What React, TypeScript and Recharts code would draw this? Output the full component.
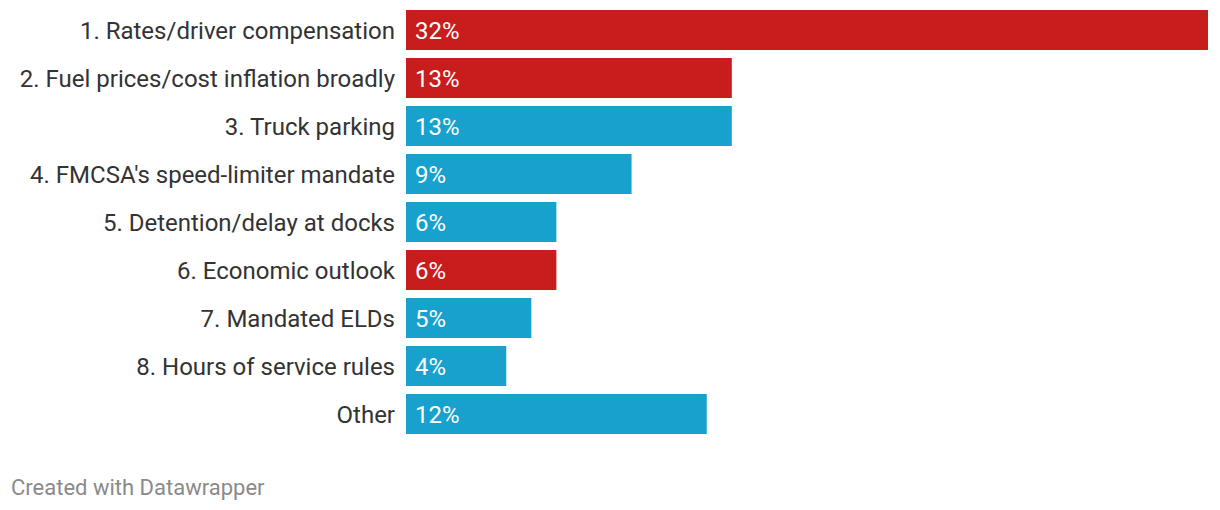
import React from "react";
import { BarChart, Bar, XAxis, YAxis, Cell, LabelList } from "recharts";

const categories = [
  "1. Rates/driver compensation",
  "2. Fuel prices/cost inflation broadly",
  "3. Truck parking",
  "4. FMCSA's speed-limiter mandate",
  "5. Detention/delay at docks",
  "6. Economic outlook",
  "7. Mandated ELDs",
  "8. Hours of service rules",
  "Other",
];
const values = [32, 13, 13, 9, 6, 6, 5, 4, 12];
const highlighted = [true, true, false, false, false, true, false, false, false];

const RED = "#c71e1d";
const BLUE = "#18a1cd";
const FONT = "Roboto, 'Noto Sans', sans-serif";

const data = categories.map((c, i) => ({ name: c, value: values[i], hi: highlighted[i] }));

export default function App() {
  return (
    <div style={{ position: "relative", width: 1204, height: 494, marginTop: -2, fontFamily: FONT }}>
      <BarChart
        width={1204}
        height={432}
        data={data}
        layout="vertical"
        margin={{ top: 0, right: 4, bottom: 0, left: 0 }}
        barCategoryGap={4}
      >
        <XAxis type="number" domain={[0, 32]} hide />
        <YAxis
          type="category"
          dataKey="name"
          width={398}
          axisLine={false}
          tickLine={false}
          tickSize={0}
          tickMargin={11}
          interval={0}
          tick={{ fill: "#333333", fontSize: 24, fontFamily: FONT }}
        />
        <Bar dataKey="value" isAnimationActive={false}>
          {data.map((d, i) => (
            <Cell key={i} fill={d.hi ? RED : BLUE} />
          ))}
          <LabelList
            dataKey="value"
            position="insideLeft"
            offset={9}
            formatter={(v: any) => `${v}%`}
            style={{ fill: "#ffffff", fontSize: 24, fontFamily: FONT }}
          />
        </Bar>
      </BarChart>
      <div
        style={{
          position: "absolute",
          left: 3,
          top: 469,
          fontSize: 22,
          color: "#8a8a8a",
          fontFamily: FONT,
          lineHeight: "26px",
        }}
      >
        Created with Datawrapper
      </div>
    </div>
  );
}
